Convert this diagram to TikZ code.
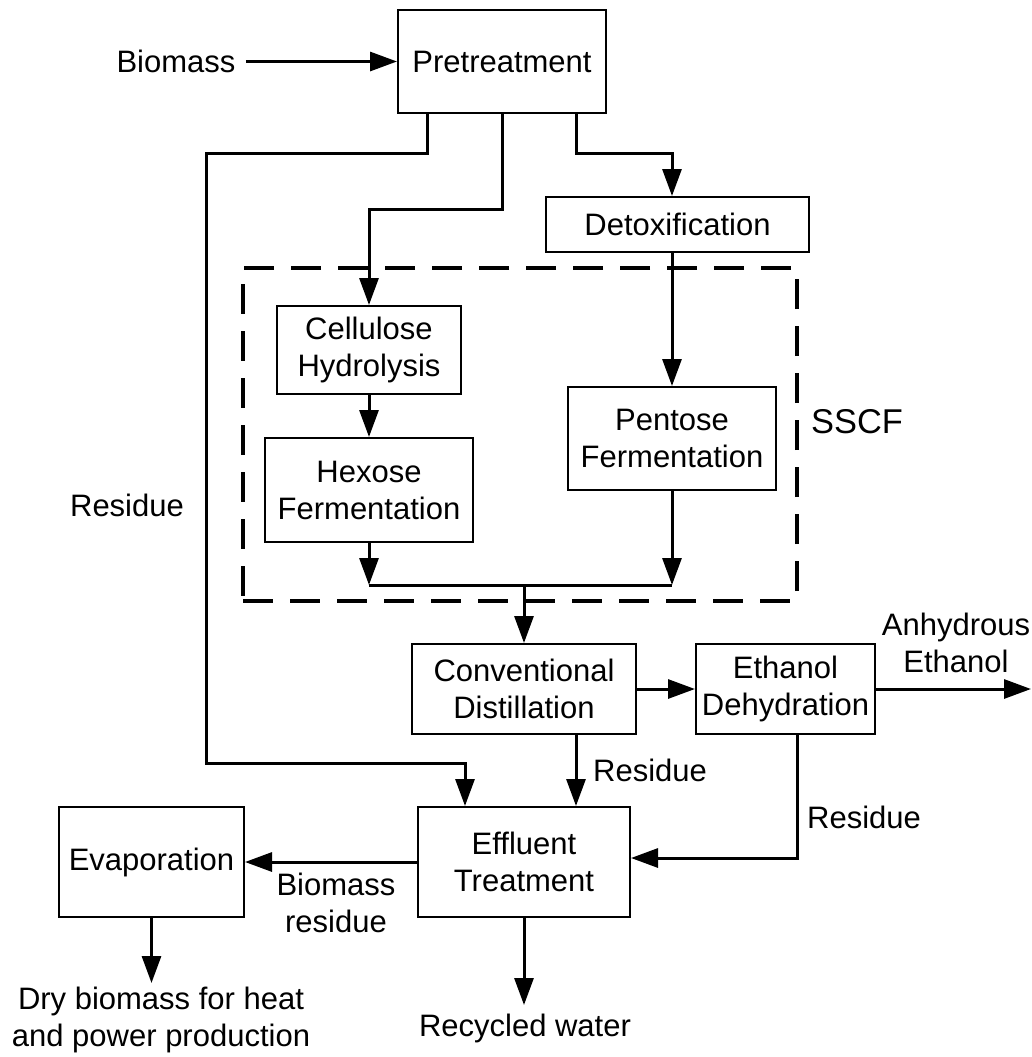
\documentclass[tikz,border=0pt]{standalone}
\usepackage{fontspec}
\setmainfont{Liberation Sans}
\usepackage{tikz}
\usetikzlibrary{positioning,arrows.meta,calc}
\tikzset{
  box/.style={draw=black, line width=1pt, align=center, inner sep=0pt,
    font=\fontsize{15.5}{18.5}\selectfont, text=black},
  lbl/.style={align=center, inner sep=0pt, font=\fontsize{15.5}{18.5}\selectfont, text=black},
  flow/.style={-{Triangle[length=13.5pt,width=9.5pt]}, line width=1.5pt, draw=black},
  pipe/.style={line width=1.5pt, draw=black},
  sscfbox/.style={draw=black, line width=2pt, dash pattern=on 15pt off 8.5pt, inner sep=0pt},
}

\begin{document}
\begin{tikzpicture}[x=0.5pt,y=-0.5pt]
  \useasboundingbox (0,0) rectangle (1032,1057);
  % process blocks
  \node[box, minimum width=104pt, minimum height=51.5pt] (pre) at (502,61.5) {Pretreatment};
  \node[box, minimum width=131.5pt, minimum height=27.5pt] (detox) at (677.5,224.5) {Detoxification};
  \node[sscfbox, minimum width=277pt, minimum height=166.5pt] (ssc) at (520,434.5) {};
  \node[box, minimum width=92pt, minimum height=44pt] (cell) at (369,350) {Cellulose\\Hydrolysis};
  \node[box, minimum width=104pt, minimum height=52pt] (hex) at (369,490) {Hexose\\Fermentation};
  \node[box, minimum width=104pt, minimum height=51.5pt] (pent) at (672,438.5) {Pentose\\Fermentation};
  \node[box, minimum width=112pt, minimum height=45pt] (conv) at (524,689) {Conventional\\Distillation};
  \node[box, minimum width=89.5pt, minimum height=45pt] (dehy) at (785.5,689) {Ethanol\\Dehydration};
  \node[box, minimum width=106pt, minimum height=55pt] (efflu) at (524,862) {Effluent\\Treatment};
  \node[box, minimum width=92.5pt, minimum height=55pt] (evap) at (151.5,862) {Evaporation};

  % free labels
  \node[lbl] (bio) at (176,61.5) {Biomass};
  \node[lbl, font=\fontsize{17.2}{20}\selectfont] (ssclbl) at (857,422) {SSCF};
  \node[lbl] (resL) at (127,505) {Residue};
  \node[lbl] (anh) at (956,643) {Anhydrous\\Ethanol};
  \node[lbl] (resC) at (650,770) {Residue};
  \node[lbl] (resD) at (864,817) {Residue};
  \node[lbl] (bres) at (336,903) {Biomass\\residue};
  \node[lbl] (dry) at (161,1020) {Dry biomass for heat\\and power production};
  \node[lbl] (recw) at (525,1028) {Recycled water};

  % bends and free ends
  \coordinate (resA) at (206,153);
  \coordinate (resB) at (206,763);
  \coordinate (cellin) at (369,209);
  \coordinate (detin) at (576,153);
  \coordinate (joinL) at (369,585);
  \coordinate (joinR) at (672,585);
  \coordinate (dehres) at (797,858);
  \coordinate (ethout) at (1031,689);
  \coordinate (drytip) at (151.5,983);
  \coordinate (wtip) at (524,1005);

  % connectors
  \draw[flow, shorten <=5pt] (bio.east) -- (pre.west);
  \draw[flow] ($(pre.south west)+(30,0)$) |- (resA) -- (resB) -| ($(efflu.north west)+(48,0)$);
  \draw[flow] (pre.south) |- (cellin) -- (cell.north);
  \draw[flow] (pre.south -| detin) -- (detin) -| (pent.north |- detox.north);
  \draw[flow] (pent.north |- detox.south) -- (pent.north);
  \draw[flow] (cell.south) -- (hex.north);
  \draw[flow] (hex.south) -- (joinL);
  \draw[flow] (pent.south) -- (joinR);
  \draw[pipe] (joinL) -- (joinR);
  \draw[flow] (joinL -| conv.north) -- (conv.north);
  \draw[flow] (conv.east) -- (dehy.west);
  \draw[flow] (dehy.east) -- (ethout);
  \draw[flow] ($(conv.south)+(52,0)$) -- ($(efflu.north)+(52,0)$);
  \draw[flow] ($(dehy.south)+(11.5,0)$) -- (dehres) -- (efflu.east |- dehres);
  \draw[flow] (efflu.west) -- (evap.east);
  \draw[flow] (evap.south) -- (drytip);
  \draw[flow] (efflu.south) -- (wtip);
\end{tikzpicture}
\end{document}
